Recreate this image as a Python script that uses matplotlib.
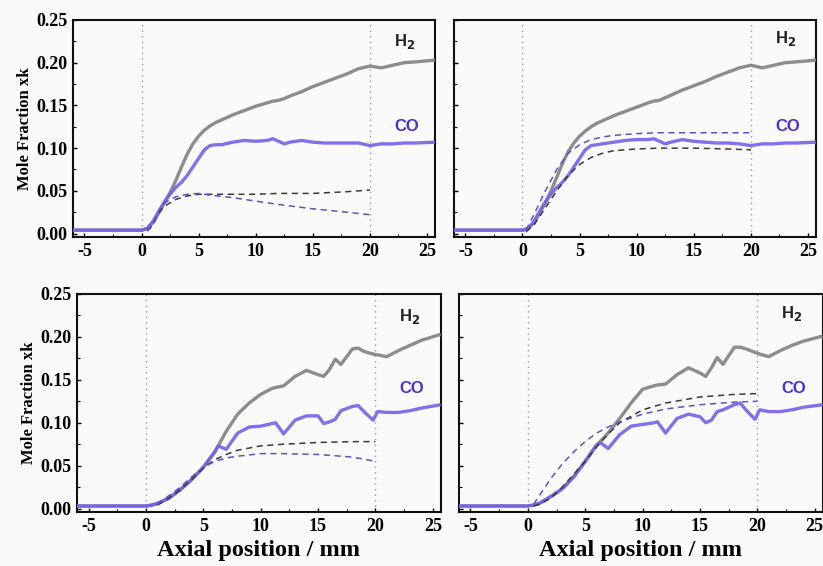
import matplotlib
matplotlib.use("Agg")
import matplotlib.pyplot as plt
from matplotlib.ticker import MultipleLocator

plt.rcParams['axes.unicode_minus'] = False

# ---------------- data ----------------
# Top-left panel
tl_x = [-6, -3, 0, 0.5, 1, 1.5, 2, 2.5, 3, 3.5, 4, 4.5, 5, 5.5, 6, 6.5, 7, 8, 9, 10, 11, 11.5, 12, 12.5, 13, 14, 15, 16, 17, 18, 19, 20, 21, 22, 23, 24, 25.7]
tl_h2 = [0.004, 0.004, 0.004, 0.006, 0.013, 0.024, 0.036, 0.048, 0.062, 0.078, 0.093, 0.105, 0.114, 0.121, 0.126, 0.130, 0.133, 0.139, 0.144, 0.149, 0.153, 0.155, 0.156, 0.158, 0.161, 0.166, 0.172, 0.177, 0.182, 0.187, 0.193, 0.196, 0.194, 0.197, 0.200, 0.201, 0.203]
tl_co = [0.004, 0.004, 0.004, 0.006, 0.014, 0.026, 0.037, 0.046, 0.054, 0.060, 0.068, 0.078, 0.088, 0.098, 0.103, 0.104, 0.104, 0.107, 0.109, 0.108, 0.109, 0.111, 0.108, 0.105, 0.107, 0.109, 0.107, 0.106, 0.106, 0.106, 0.106, 0.103, 0.105, 0.105, 0.106, 0.106, 0.107]
tl_mx = [0.5, 1, 1.5, 2, 3, 4, 5, 6, 8, 10, 12, 15, 18, 20]
tl_mh2 = [0.003, 0.010, 0.024, 0.032, 0.040, 0.044, 0.046, 0.046, 0.046, 0.046, 0.047, 0.047, 0.049, 0.051]
tl_mco = [0.003, 0.010, 0.026, 0.036, 0.043, 0.046, 0.047, 0.045, 0.042, 0.038, 0.034, 0.029, 0.025, 0.022]

# Top-right panel
tr_x = tl_x
tr_h2 = [0.004, 0.004, 0.004, 0.006, 0.013, 0.024, 0.036, 0.05, 0.066, 0.082, 0.096, 0.106, 0.114, 0.120, 0.125, 0.129, 0.132, 0.138, 0.143, 0.148, 0.153, 0.155, 0.156, 0.159, 0.162, 0.168, 0.173, 0.178, 0.184, 0.189, 0.194, 0.197, 0.194, 0.197, 0.200, 0.201, 0.203]
tr_co = [0.004, 0.004, 0.004, 0.006, 0.014, 0.026, 0.037, 0.046, 0.054, 0.060, 0.068, 0.078, 0.088, 0.098, 0.103, 0.104, 0.105, 0.107, 0.109, 0.110, 0.110, 0.111, 0.108, 0.105, 0.107, 0.110, 0.108, 0.107, 0.106, 0.106, 0.105, 0.103, 0.105, 0.105, 0.106, 0.106, 0.107]
tr_mx = [0.3, 1, 2, 3, 4, 5, 6, 7, 8, 10, 12, 15, 18, 20]
tr_mh2 = [0.002, 0.010, 0.030, 0.050, 0.068, 0.081, 0.089, 0.094, 0.097, 0.099, 0.100, 0.100, 0.099, 0.098]
tr_mco = [0.004, 0.022, 0.050, 0.075, 0.094, 0.104, 0.110, 0.113, 0.115, 0.117, 0.118, 0.118, 0.118, 0.118]

# Bottom-left panel
bl_x = [-6, -3, 0, 0.5, 1, 2, 3, 4, 5, 6, 6.3, 7, 8, 9, 10, 11, 11.3, 12, 13, 14, 15, 15.5, 16, 16.5, 17, 18, 18.5, 19, 19.8, 20.2, 21, 22, 23, 24, 25.7]
bl_h2 = [0.003, 0.003, 0.003, 0.004, 0.006, 0.012, 0.022, 0.034, 0.048, 0.066, 0.073, 0.090, 0.110, 0.123, 0.133, 0.140, 0.141, 0.143, 0.154, 0.161, 0.156, 0.154, 0.162, 0.174, 0.168, 0.186, 0.187, 0.183, 0.180, 0.179, 0.177, 0.184, 0.190, 0.196, 0.203]
bl_co = [0.003, 0.003, 0.003, 0.004, 0.006, 0.012, 0.022, 0.034, 0.048, 0.066, 0.073, 0.069, 0.088, 0.095, 0.096, 0.099, 0.100, 0.087, 0.103, 0.108, 0.108, 0.099, 0.101, 0.104, 0.114, 0.119, 0.120, 0.113, 0.103, 0.113, 0.112, 0.112, 0.114, 0.117, 0.121]
bl_mx = [1, 2, 3, 4, 5, 6, 7, 8, 10, 12, 15, 18, 20]
bl_mh2 = [0.004, 0.012, 0.022, 0.034, 0.047, 0.057, 0.063, 0.068, 0.073, 0.075, 0.077, 0.078, 0.078]
bl_mco = [0.005, 0.015, 0.025, 0.037, 0.048, 0.055, 0.059, 0.061, 0.064, 0.064, 0.063, 0.060, 0.055]

# Bottom-right panel
br_x = bl_x
br_h2 = [0.003, 0.003, 0.003, 0.004, 0.006, 0.014, 0.023, 0.037, 0.055, 0.074, 0.078, 0.088, 0.105, 0.123, 0.139, 0.143, 0.144, 0.145, 0.156, 0.164, 0.158, 0.154, 0.164, 0.176, 0.168, 0.188, 0.188, 0.186, 0.182, 0.180, 0.177, 0.184, 0.190, 0.195, 0.201]
br_co = [0.003, 0.003, 0.003, 0.004, 0.006, 0.014, 0.023, 0.037, 0.055, 0.074, 0.077, 0.070, 0.086, 0.096, 0.098, 0.100, 0.101, 0.088, 0.105, 0.110, 0.107, 0.100, 0.103, 0.113, 0.115, 0.121, 0.123, 0.115, 0.104, 0.115, 0.113, 0.113, 0.115, 0.118, 0.121]
br_mx = [0.5, 1, 2, 3, 4, 5, 6, 7, 8, 10, 12, 15, 18, 20]
br_mh2 = [0.003, 0.005, 0.012, 0.025, 0.040, 0.055, 0.072, 0.087, 0.100, 0.115, 0.123, 0.130, 0.133, 0.134]
br_mco = [0.005, 0.015, 0.035, 0.052, 0.066, 0.078, 0.088, 0.095, 0.101, 0.110, 0.116, 0.121, 0.124, 0.125]

x_ticks = [-5, 0, 5, 10, 15, 20, 25]
y_ticks = [0.00, 0.05, 0.10, 0.15, 0.20, 0.25]
species_labels = ["H$_\\mathbf{2}$", "CO"]

# ---------------- style ----------------
H2_C = "#808080"
CO_C = "#7262ea"
MH2_C = "#3a3a3a"
MCO_C = "#5a52c8"
LBL_H2 = "#222222"
LBL_CO = "#4a2fd6"
BG = "#fafafa"

fig = plt.figure(figsize=(8.23, 5.66), dpi=100, facecolor=BG)

panels = [
    ([0.0887, 0.5813, 0.4399, 0.3834], tl_x, tl_h2, tl_co, tl_mx, tl_mh2, tl_mco, True, False, (0.225, 0.125)),
    ([0.5516, 0.5813, 0.4399, 0.3834], tr_x, tr_h2, tr_co, tr_mx, tr_mh2, tr_mco, False, False, (0.228, 0.125)),
    ([0.0936, 0.0954, 0.4420, 0.3852], bl_x, bl_h2, bl_co, bl_mx, bl_mh2, bl_mco, True, True, (0.224, 0.140)),
    ([0.5577, 0.0954, 0.4420, 0.3852], br_x, br_h2, br_co, br_mx, br_mh2, br_mco, False, True, (0.227, 0.140)),
]

serif_bold = dict(family="Liberation Serif", weight="bold")

for rect, x, h2, co, mx, mh2, mco, ylab, xlab, (yh, yc) in panels:
    ax = fig.add_axes(rect)
    ax.set_facecolor(BG)
    ax.set_xlim(-6, 25.7)
    ax.set_ylim(-0.004, 0.25)
    ax.axvline(0, color="#9a9a9a", ls=(0, (1, 3)), lw=1.0, zorder=1)
    ax.axvline(20, color="#9a9a9a", ls=(0, (1, 3)), lw=1.0, zorder=1)
    ax.plot(x, h2, color=H2_C, lw=2.4, alpha=0.9, zorder=3, solid_capstyle="butt")
    ax.plot(x, co, color=CO_C, lw=2.4, alpha=0.9, zorder=3, solid_capstyle="butt")
    ax.plot(mx, mh2, color=MH2_C, lw=1.1, ls=(0, (4, 3)), zorder=4)
    ax.plot(mx, mco, color=MCO_C, lw=1.1, ls=(0, (4, 3)), zorder=4)
    ax.text(23.0, yh, species_labels[0], color=LBL_H2, fontsize=12, fontweight="bold",
            family="Liberation Sans", ha="center", va="center")
    ax.text(23.2, yc, species_labels[1], color=LBL_CO, fontsize=12, fontweight="bold",
            family="Liberation Sans", ha="center", va="center")
    ax.set_xticks(x_ticks)
    ax.set_xticklabels([str(v) for v in x_ticks], **serif_bold, fontsize=13)
    ax.set_yticks(y_ticks)
    if ylab:
        ax.set_yticklabels([f"{v:.2f}" for v in y_ticks], **serif_bold, fontsize=13)
        ax.set_ylabel("Mole Fraction xk", **serif_bold, fontsize=12, labelpad=2)
    else:
        ax.set_yticklabels([])
    if xlab:
        ax.set_xlabel("Axial position / mm", **serif_bold, fontsize=17.5, labelpad=4)
    ax.xaxis.set_minor_locator(MultipleLocator(2.5))
    ax.yaxis.set_minor_locator(MultipleLocator(0.025))
    ax.tick_params(which="major", direction="in", length=3, width=1, pad=4, colors="black")
    ax.tick_params(which="minor", direction="in", length=2, width=0.8)
    for s in ax.spines.values():
        s.set_linewidth(1.5)
        s.set_color("#111111")

fig.savefig("out.png", dpi=100, facecolor=BG)
